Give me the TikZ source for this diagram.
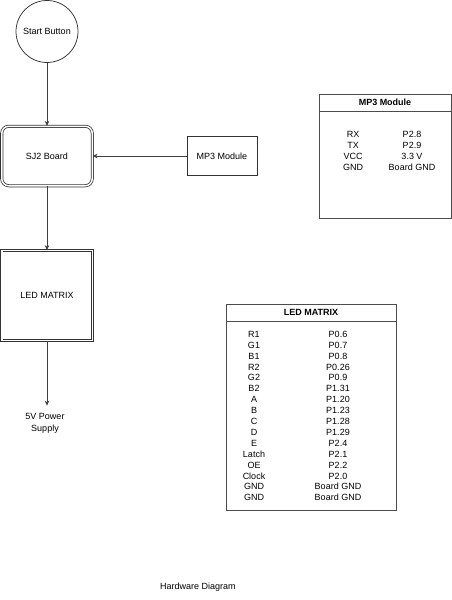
\documentclass[tikz,border=0pt]{standalone}
\usepackage{fontspec}
\setmainfont{Liberation Sans}
\usetikzlibrary{arrows.meta}
\usetikzlibrary{positioning}

\begin{document}
\begin{tikzpicture}[x=1pt,y=-1pt,
  font=\fontsize{9}{10.9}\selectfont,
  blk/.style={draw=black!80,line width=0.75pt},
  dbl/.style={blk,double,double distance=1.5pt},
  conn/.style={draw=black!75,line width=0.75pt,-{Stealth[length=5pt,width=4.5pt]}},
  tbl/.style={draw=black!70,line width=1pt},
  hd/.style={font=\fontsize{9}{10.9}\selectfont\bfseries}]
\useasboundingbox (0,0) rectangle (452,600);

\node[blk,circle,minimum size=62] (start) at (47,31.5) {Start Button};
\node[dbl,rounded corners=7pt,minimum width=90.5,minimum height=59.5] (sj2) at (47,156) {SJ2 Board};
\node[blk,minimum width=70,minimum height=39] (mp3) at (222,156) {MP3 Module};
\node[dbl,minimum width=90.5,minimum height=90] (ledbox) at (47,295.5) {LED MATRIX};
\node[align=center,inner sep=7pt,font=\fontsize{9}{12.3}\selectfont] (psu) at (45,423) {5V Power\\Supply};

\draw[conn] (start) -- (sj2);
\draw[conn] (mp3) -- (sj2);
\draw[conn] (sj2) -- (ledbox);
\draw[conn] (ledbox.south) -- (ledbox.south |- psu.north);

% MP3 pin table
\draw[tbl] (319,94) rectangle (451,218);
\draw[tbl] (319,111) -- (451,111);
\node[hd] (mp3head) at (385,102.5) {MP3 Module};
\node[align=center] (mp3pin) at (353,151) {RX\\TX\\VCC\\GND};
\node[align=center] (mp3port) at (412,151) {P2.8\\P2.9\\3.3 V\\Board GND};

% LED matrix pin table
\draw[tbl] (226,304) rectangle (396,510);
\draw[tbl] (226,321) -- (396,321);
\node[hd] (ledhead) at (311,312.5) {LED MATRIX};
\node[align=center] (ledpin) at (254,416) {R1\\G1\\B1\\R2\\G2\\B2\\A\\B\\C\\D\\E\\Latch\\OE\\Clock\\GND\\GND};
\node[align=center] (ledport) at (338,416) {P0.6\\P0.7\\P0.8\\P0.26\\P0.9\\P1.31\\P1.20\\P1.23\\P1.28\\P1.29\\P2.4\\P2.1\\P2.2\\P2.0\\Board GND\\Board GND};

\node (title) at (198,587) {Hardware Diagram};
\end{tikzpicture}
\end{document}
